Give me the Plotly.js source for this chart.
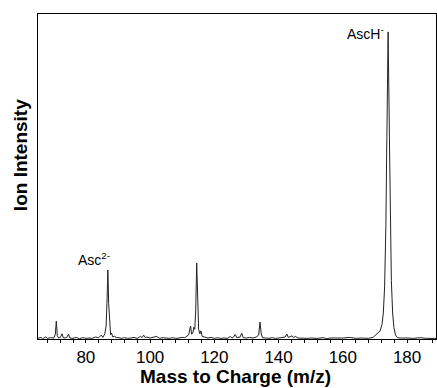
<!DOCTYPE html>
<html>
<head>
<meta charset="utf-8">
<script src="https://cdn.plot.ly/plotly-3.0.1.min.js"></script>
<style>html,body{margin:0;padding:0;background:#fff;}#chart{width:437px;height:388px;}</style>
</head>
<body>
<div id="chart"></div>
<script>
// m/z values and ion intensities (arbitrary units)
var mz = [65, 66, 66.5, 67.5, 68, 69, 70, 70.5, 70.8, 71.1, 71.5, 72, 72.6, 73, 74, 74.6, 75, 76, 77, 78, 79, 80, 81, 82, 83, 84, 84.8, 85.3, 85.9, 86.3, 86.6, 86.85, 87.1, 87.4, 87.7, 88, 88.4, 89, 89.5, 90, 91, 92, 93, 94, 95, 96, 97, 97.5, 98, 98.5, 99, 100, 101, 102, 103, 104, 105, 106, 107, 108, 109, 110, 110.8, 111.5, 112, 112.6, 112.9, 113.3, 113.6, 113.9, 114.2, 114.5, 114.8, 115.1, 115.5, 115.8, 116.2, 116.8, 117.5, 118, 119, 120, 121, 122, 123, 124, 125, 125.5, 126, 126.5, 127, 128, 128.5, 129, 130, 131, 132, 133, 133.8, 134.2, 134.6, 135, 136, 137, 138, 139, 140, 141, 142, 142.6, 143, 143.6, 144.2, 144.6, 145.2, 146, 147, 148, 149, 150, 152, 154, 155, 156, 158, 160, 162, 164, 166, 168, 169.4, 170.2, 171, 171.6, 172.2, 172.6, 173, 173.4, 173.7, 174.1, 174.5, 174.8, 175.1, 175.5, 175.9, 176.4, 177, 178, 179, 180, 182, 184, 186, 188, 189];
var intensity = [0.2, 0.5, 0.1, 0.6, 0.2, 0.4, 0.3, 1.5, 5.5, 1.0, 0.3, 0.4, 1.6, 0.3, 0.4, 1.5, 0.3, 0.2, 0.5, 0.1, 0.4, 0.2, 0.3, 0.2, 0.6, 0.4, 1.2, 0.5, 1.6, 4, 12, 21.2, 11, 3.5, 1.3, 1.8, 0.6, 0.9, 0.3, 0.5, 0.2, 0.4, 0.2, 0.3, 0.5, 0.2, 0.8, 0.4, 1.2, 0.4, 0.6, 0.3, 0.5, 0.8, 0.2, 0.4, 0.3, 0.2, 0.4, 0.2, 0.3, 0.5, 0.4, 1.0, 1.3, 4.0, 1.5, 1.8, 3.6, 3, 9, 23.4, 9, 3, 1.6, 2.5, 0.8, 0.6, 0.4, 0.3, 0.5, 0.2, 0.4, 0.2, 0.3, 0.2, 0.8, 0.3, 0.6, 1.4, 0.4, 0.6, 1.8, 0.4, 0.3, 0.5, 0.3, 0.6, 1.2, 5.2, 1.5, 0.4, 0.3, 0.2, 0.4, 0.2, 0.3, 0.4, 0.6, 1.5, 0.5, 0.7, 1.0, 0.4, 0.8, 0.3, 0.2, 0.3, 0.2, 0.3, 0.2, 0.4, 0.1, 0.3, 0.2, 0.3, 0.5, 0.2, 0.3, 0.2, 0.5, 1.2, 1.8, 2.5, 4.5, 8, 16, 35, 62, 94.5, 62, 35, 18, 8, 3.5, 1.2, 0.4, 0.3, 0.2, 0.3, 0.2, 0.4, 0.2, 0.3, 0.2];

var peakLabels = ["Asc<sup>2-</sup>", "AscH<sup>-</sup>"];
var xTitle = "Mass to Charge (m/z)";
var yTitle = "Ion Intensity";

var font = "Liberation Sans, Arial, Helvetica, sans-serif";

var trace = {
  x: mz, y: intensity, type: "scatter", mode: "lines",
  line: {color: "#222", width: 1},
  hoverinfo: "skip"
};

var layout = {
  width: 437, height: 388,
  margin: {l: 38, r: 1, t: 14, b: 49},
  paper_bgcolor: "#fff", plot_bgcolor: "#fff",
  showlegend: false,
  font: {family: font, color: "#000"},
  xaxis: {
    range: [65.1, 189], tick0: 0, dtick: 20,
    ticks: "outside", ticklen: 3, tickwidth: 1, tickcolor: "#000",
    minor: {dtick: 4, tick0: 0, ticks: "outside", ticklen: 3, tickwidth: 1, tickcolor: "#000"},
    showline: true, linecolor: "#000", linewidth: 1, mirror: true,
    showgrid: false, zeroline: false,
    tickfont: {size: 17, family: font, color: "#000"}
  },
  yaxis: {
    range: [0, 100],
    showticklabels: false, ticks: "",
    showline: true, linecolor: "#000", linewidth: 1, mirror: true,
    showgrid: false, zeroline: false
  },
  annotations: [
    {x: 88.1, y: 24.6, xref: "x", yref: "y", text: peakLabels[0], showarrow: false,
     xanchor: "right", yanchor: "middle", font: {size: 14, family: font, color: "#000"}},
    {x: 173.3, y: 94.2, xref: "x", yref: "y", text: peakLabels[1], showarrow: false,
     xanchor: "right", yanchor: "middle", font: {size: 14, family: font, color: "#000"}},
    {x: 0.496, y: -0.116, xref: "paper", yref: "paper", text: xTitle, showarrow: false,
     xanchor: "center", yanchor: "middle",
     font: {size: 19, family: font, weight: "bold", color: "#000"}},
    {x: -0.045, y: 0.566, xref: "paper", yref: "paper", text: yTitle, showarrow: false,
     textangle: -90, xanchor: "center", yanchor: "middle",
     font: {size: 19, family: font, weight: "bold", color: "#000"}}
  ]
};

Plotly.newPlot("chart", [trace], layout, {displayModeBar: false, staticPlot: true});
</script>
</body>
</html>
